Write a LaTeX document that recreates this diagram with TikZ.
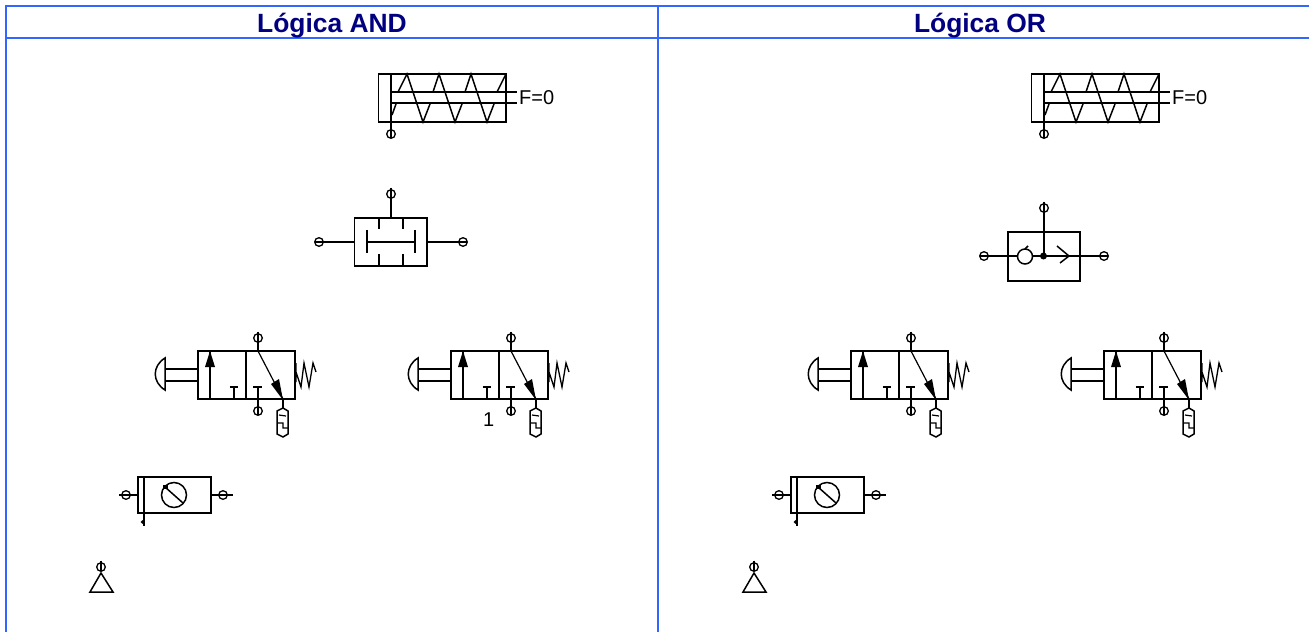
\documentclass[tikz,border=0pt]{standalone}
\usepackage{fontspec}
\setmainfont{Liberation Sans}
\definecolor{gridblue}{HTML}{3366FF}
\definecolor{headnavy}{HTML}{000080}
\tikzset{x=1pt,y=-1pt,
 sym/.style={draw=black,line width=1.5pt,line join=miter},
 grid/.style={draw=gridblue,line width=2pt},
 head/.style={text=headnavy,font=\fontsize{26.4}{28}\selectfont\bfseries,anchor=base},
 lab/.style={text=black,font=\fontsize{20}{22}\selectfont,anchor=base west,inner sep=0pt},
 port/.pic={\draw[sym,line width=1.3pt] (0,0) circle (4.3); \draw[sym,line width=1.2pt] (-4.3,0)--(4.3,0);},
 vport/.pic={\draw[sym,line width=1.3pt] (0,0) circle (4.3); \draw[sym,line width=1.2pt] (0,-6.5)--(0,4.3);},
 cylinder/.pic={
  \draw[sym] (378.5,74) rectangle (506,122);
  \draw[sym] (391,74)--(391,130);
  \draw[sym] (391,92)--(517,92) (391,103)--(517,103);
  \draw[sym] (392,115)--(396,104) (398,92)--(407,74)--(423,122)--(430,104) (433,92)--(439,74)--(455,122)--(462,104) (465,92)--(471,74)--(487,122)--(494,104) (497,92)--(506,74);
  \path (391,134) pic {vport};
  \node[lab] (flabel) at (519,104) {F=0};
 },
 spool/.pic={
  \draw[sym] (198,351) rectangle (295,399);
  \draw[sym] (246,351)--(246,399);
  \draw[sym] (198,369)--(165,369) (165,381)--(198,381);
  \draw[sym] (165,358) .. controls (152,366) and (152,382) .. (165,390)--cycle;
  \draw[sym] (210,399)--(210,351);
  \fill (210,351)--(215,367)--(205,367)--cycle;
  \draw[sym] (234,399)--(234,387) (229.5,387)--(238,387);
  \draw[sym] (258,338)--(258,351);
  \draw[sym,line width=1.2pt] (258,351)--(283,399);
  \fill (283,400)--(271,384)--(279,379)--cycle;
  \draw[sym] (253,387)--(262,387) (258,387)--(258,406);
  \path (258,338) pic {vport};
  \path (258,411) pic {vport};
  \draw[sym,line width=1.3pt] (296,363)--(296,382) (296,372)--(301,387)--(304,363)--(309,387)--(313,363)--(316,372);
  \draw[sym] (283,399)--(283,408);
  \draw[sym] (283,408)--(288,411)--(288,434)--(283,437)--(277,434)--(277,411)--cycle;
  \draw[sym,line width=1.2pt] (279,415)--(286,416) (277,423)--(283,423)--(283,428)--(288,428);
 },
 flowctrl/.pic={
  \draw[sym] (138,477) rectangle (211,513);
  \draw[sym] (144,477)--(144,526);
  \fill (142.5,522) circle (1.8);
  \draw[sym] (174,495) circle (12.5);
  \draw[sym] (165,487)--(183,503);
  \fill (163,484.5) rectangle (167.5,489);
  \draw[sym] (119,495)--(138,495) (211,495)--(233,495);
  \path (126,495) pic {port};
  \path (223,495) pic {port};
 },
 supply/.pic={
  \draw[sym] (101,573)--(90,592)--(113,592)--cycle;
  \path (101,567) pic {vport};
 }
}
\begin{document}
\begin{tikzpicture}
\useasboundingbox (0,0) rectangle (1309,632);
\fill[white] (0,0) rectangle (1309,632);
% table
\draw[grid] (5.5,632)--(5.5,6)--(1309,6);
\draw[grid] (5.5,38)--(1309,38);
\draw[grid] (658,6)--(658,632);
\node[head] (hand) at (332,32) {Lógica AND};
\node[head] (hor) at (980,32) {Lógica OR};
% left
\path (0,0) pic {cylinder};
\draw[sym] (354.5,218) rectangle (427,266);
\draw[sym] (391,198)--(391,218) (323,242)--(354.5,242) (427,242)--(459,242);
\draw[sym] (367,230)--(367,253) (415,230)--(415,253) (367,242)--(415,242);
\draw[sym] (379,218)--(379,229) (403,218)--(403,229) (379,254)--(379,266) (403,254)--(403,266);
\path (391,194) pic {vport};
\path (319,242) pic {port};
\path (463,242) pic {port};
\path (0,0) pic {spool};
\path (253,0) pic {spool};
\node[lab] (one) at (483,426) {1};
\path (0,0) pic {flowctrl};
\path (0,0) pic {supply};
% right
\path (653,0) pic {cylinder};
\draw[sym] (1008,232) rectangle (1080,281);
\draw[sym] (1044,212)--(1044,256) (988,256)--(1017,256) (1033,256)--(1100,256);
\draw[sym] (1025,256.5) circle (7.5);
\draw[sym] (1025,249)--(1028,246) (1057,246)--(1069,256)--(1060,263);
\fill (1043.5,256) circle (3.5);
\path (1044,208) pic {vport};
\path (984,256) pic {port};
\path (1104,256) pic {port};
\path (653,0) pic {spool};
\path (906,0) pic {spool};
\path (653,0) pic {flowctrl};
\path (653,0) pic {supply};
\end{tikzpicture}
\end{document}
